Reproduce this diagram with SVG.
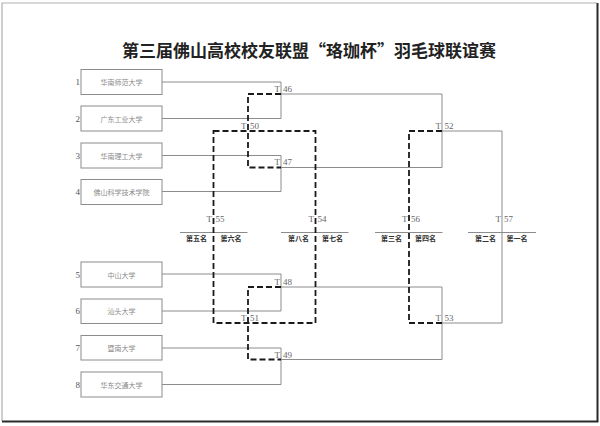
<svg xmlns="http://www.w3.org/2000/svg" width="600" height="426" viewBox="0 0 600 426">
<style>
.bg{fill:#ffffff}
.box{fill:#ffffff;stroke:#8c8c8c;stroke-width:1}
.sl{fill:none;stroke:#8c8c8c;stroke-width:1}
.dl{fill:none;stroke:#1a1a1a;stroke-width:1.8;stroke-dasharray:6 3}
.team{font-family:"Noto Sans CJK SC","Liberation Sans",sans-serif;font-size:7px;fill:#8a8a8a;text-anchor:middle;dominant-baseline:central}
.num{font-family:"Liberation Serif",serif;font-size:9px;fill:#555555;text-anchor:end;dominant-baseline:central}
.tm{font-family:"Liberation Serif",serif;font-size:9px;fill:#666666}
.rank{font-family:"Noto Sans CJK SC","Liberation Sans",sans-serif;font-size:7px;font-weight:bold;fill:#333333;text-anchor:middle}
.title{font-family:"Noto Sans CJK SC","Liberation Sans",sans-serif;font-size:17px;font-weight:bold;fill:#222222;text-anchor:middle}
</style>
<rect class="bg" x="0" y="0" width="600" height="426"/>
<g id="page-border">
<path d="M2,421 V3 H597" fill="none" stroke="#b0b0b0" stroke-width="1.2"/>
<path d="M2,421.5 H597.5 V3" fill="none" stroke="#2a2a2a" stroke-width="2"/>
</g>
<text class="title" x="309" y="57">第三届佛山高校校友联盟“珞珈杯”羽毛球联谊赛</text>

<g id="connectors">
<path class="sl" d="M162,82 H281 V118.5 H162"/>
<path class="sl" d="M162,155.5 H281 V191.5 H162"/>
<path class="sl" d="M162,274 H281 V311 H162"/>
<path class="sl" d="M162,348 H281 V384.5 H162"/>
<path class="sl" d="M281,94 H442 V167.5 H281"/>
<path class="sl" d="M281,287 H442 V359.5 H281"/>
<path class="sl" d="M442,131 H502 V323 H442"/>
<path class="sl" d="M180,232.5 H247.5"/>
<path class="sl" d="M281,232.5 H348.5"/>
<path class="sl" d="M375,232.5 H442.5"/>
<path class="sl" d="M468,232.5 H536"/>
<path class="dl" d="M281,94 H248 V167.5 H281"/>
<path class="dl" d="M281,287 H248 V359.5 H281"/>
<rect class="dl" x="213.5" y="131" width="102" height="192"/>
<path class="dl" d="M442,131 H409 V323 H442"/>
</g>

<g id="team-1"><rect class="box" x="81" y="69.5" width="81" height="25"/><text class="num" x="80" y="82">1</text><text class="team" x="121.5" y="82">华南师范大学</text></g>
<g id="team-2"><rect class="box" x="81" y="106" width="81" height="25"/><text class="num" x="80" y="118.5">2</text><text class="team" x="121.5" y="118.5">广东工业大学</text></g>
<g id="team-3"><rect class="box" x="81" y="143" width="81" height="25"/><text class="num" x="80" y="155.5">3</text><text class="team" x="121.5" y="155.5">华南理工大学</text></g>
<g id="team-4"><rect class="box" x="81" y="179.5" width="81" height="25"/><text class="num" x="80" y="192">4</text><text class="team" x="121.5" y="192">佛山科学技术学院</text></g>
<g id="team-5"><rect class="box" x="81" y="262" width="81" height="25"/><text class="num" x="80" y="274.5">5</text><text class="team" x="121.5" y="274.5">中山大学</text></g>
<g id="team-6"><rect class="box" x="81" y="299" width="81" height="24.5"/><text class="num" x="80" y="311">6</text><text class="team" x="121.5" y="311">汕头大学</text></g>
<g id="team-7"><rect class="box" x="81" y="335.5" width="81" height="24.5"/><text class="num" x="80" y="348">7</text><text class="team" x="121.5" y="348">暨南大学</text></g>
<g id="team-8"><rect class="box" x="81" y="372" width="81" height="25"/><text class="num" x="80" y="384.5">8</text><text class="team" x="121.5" y="384.5">华东交通大学</text></g>

<g id="match-46"><text class="tm" x="274.5" y="92">T</text><text class="tm" x="283" y="92">46</text></g>
<g id="match-47"><text class="tm" x="274.5" y="165">T</text><text class="tm" x="283" y="165">47</text></g>
<g id="match-48"><text class="tm" x="274.5" y="285">T</text><text class="tm" x="283" y="285">48</text></g>
<g id="match-49"><text class="tm" x="274.5" y="357.5">T</text><text class="tm" x="283" y="357.5">49</text></g>
<g id="match-50"><text class="tm" x="241" y="129">T</text><text class="tm" x="250" y="129">50</text></g>
<g id="match-51"><text class="tm" x="241" y="321">T</text><text class="tm" x="250" y="321">51</text></g>
<g id="match-52"><text class="tm" x="435.5" y="129">T</text><text class="tm" x="444.5" y="129">52</text></g>
<g id="match-53"><text class="tm" x="435.5" y="321">T</text><text class="tm" x="444.5" y="321">53</text></g>
<g id="match-55"><text class="tm" x="206.5" y="221.5">T</text><text class="tm" x="215.5" y="221.5">55</text></g>
<g id="match-54"><text class="tm" x="308.5" y="221.5">T</text><text class="tm" x="317.5" y="221.5">54</text></g>
<g id="match-56"><text class="tm" x="402" y="221.5">T</text><text class="tm" x="411" y="221.5">56</text></g>
<g id="match-57"><text class="tm" x="495.5" y="221.5">T</text><text class="tm" x="504" y="221.5">57</text></g>

<g id="rank-55"><text class="rank" x="196.5" y="241">第五名</text><text class="rank" x="231" y="241">第六名</text></g>
<g id="rank-54"><text class="rank" x="298.5" y="241">第八名</text><text class="rank" x="332.5" y="241">第七名</text></g>
<g id="rank-56"><text class="rank" x="391.5" y="241">第三名</text><text class="rank" x="425.5" y="241">第四名</text></g>
<g id="rank-57"><text class="rank" x="485.5" y="241">第二名</text><text class="rank" x="517" y="241">第一名</text></g>
</svg>
